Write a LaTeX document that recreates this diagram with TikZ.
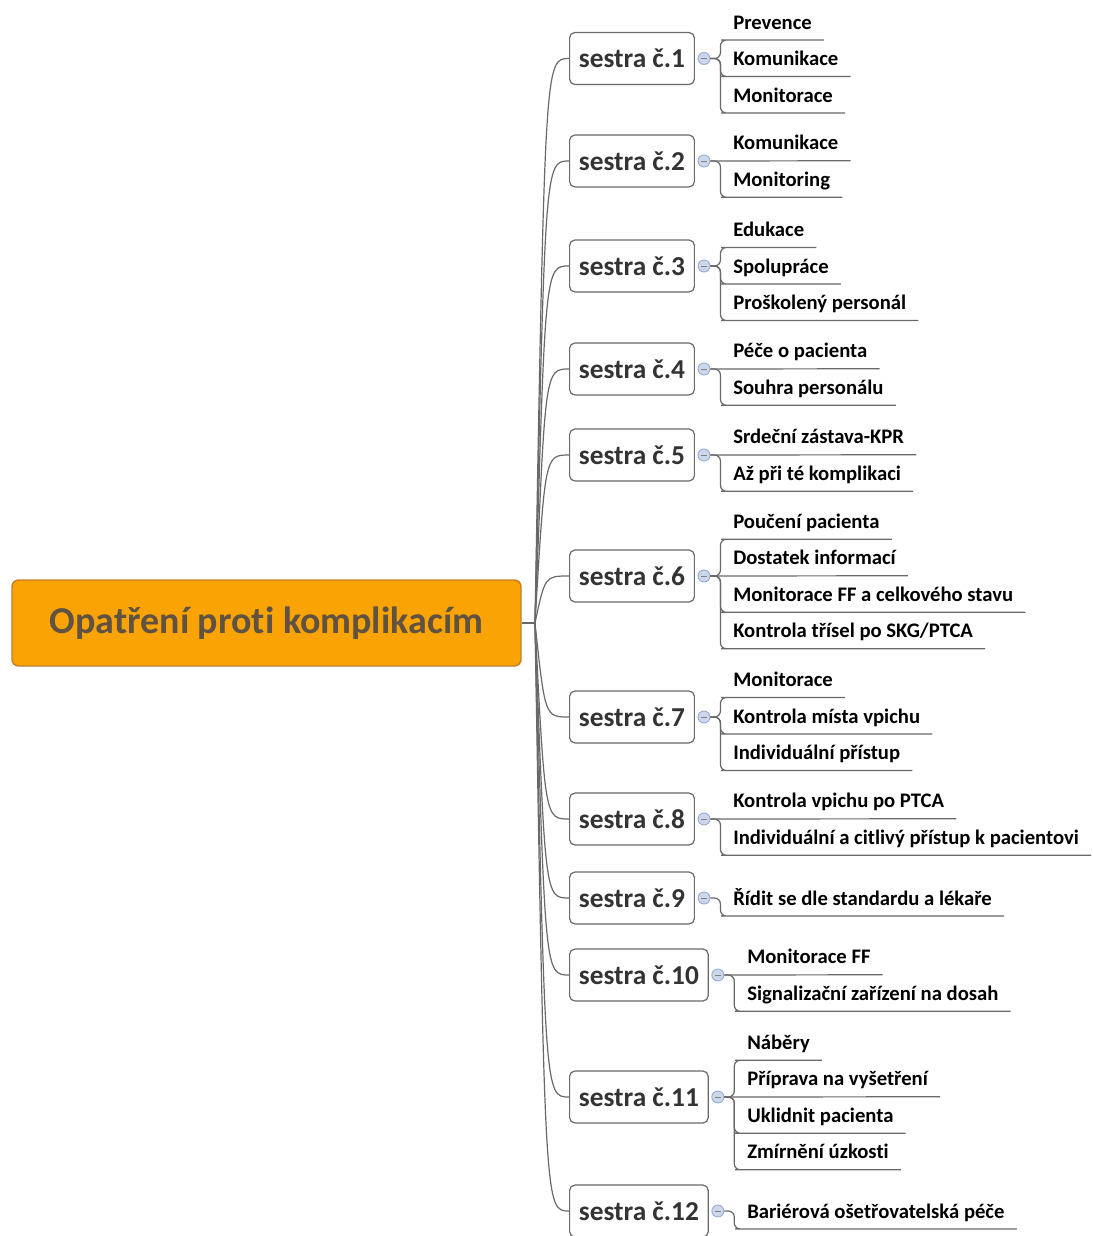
\documentclass[tikz,border=0pt]{standalone}
\usepackage{fontspec}
\setmainfont{Carlito}[Ligatures=NoCommon]
\usetikzlibrary{calc}
\definecolor{rootfill}{RGB}{249,164,4}
\definecolor{rootline}{RGB}{196,128,40}
\definecolor{roottext}{RGB}{96,82,66}
\definecolor{wire}{RGB}{105,105,105}
\definecolor{knobfill}{RGB}{205,215,235}
\definecolor{knobline}{RGB}{150,172,210}
\begin{document}
\begin{tikzpicture}[x=0.75pt,y=-0.75pt,
    root/.style={draw=rootline,fill=rootfill,line width=1.1pt,rounded corners=5pt,
      minimum width=381.75pt,minimum height=64.5pt,text=roottext,
      font=\fontsize{28.5}{34}\selectfont\bfseries},
    nurse/.style={draw=wire,fill=white,line width=0.9pt,rounded corners=4pt,anchor=west,
      minimum height=39pt,inner xsep=7pt,text=black!80,font=\fontsize{20.5}{24}\selectfont\bfseries},
    knob/.style={circle,draw=knobline,fill=knobfill,line width=0.7pt,minimum size=9pt,inner sep=0pt,
      path picture={\draw[gray,line width=0.6pt]
        ([xshift=-2.2pt]path picture bounding box.center) -- ([xshift=2.2pt]path picture bounding box.center);}},
    leaf/.style={anchor=base west,inner sep=0pt,font=\fontsize{15.5}{18}\selectfont\bfseries},
    trunk/.style={draw=wire,line width=0.9pt},
    twig/.style={draw=wire,line width=0.9pt,rounded corners=4.5pt}]
  \useasboundingbox (0,0) rectangle (1093,1236);

  % main topic
  \node[root] (root) at (266.5,623) {Opatření proti komplikacím};
  \coordinate (hub) at (535,623);
  \coordinate (bend) at (545,0);

  % nurses
  \node[nurse] (s1) at (569,58.5) {sestra č.1};
  \node[nurse] (s2) at (569,161) {sestra č.2};
  \node[nurse] (s3) at (569,266) {sestra č.3};
  \node[nurse] (s4) at (569,369) {sestra č.4};
  \node[nurse] (s5) at (569,455) {sestra č.5};
  \node[nurse] (s6) at (569,576) {sestra č.6};
  \node[nurse] (s7) at (569,717) {sestra č.7};
  \node[nurse] (s8) at (569,819) {sestra č.8};
  \node[nurse] (s9) at (569,898) {sestra č.9};
  \node[nurse] (s10) at (569,975) {sestra č.10};
  \node[nurse] (s11) at (569,1097) {sestra č.11};
  \node[nurse] (s12) at (569,1211) {sestra č.12};

  \node[knob] (k1) at ($(s1.east)+(9,0)$) {};
  \node[knob] (k2) at ($(s2.east)+(9,0)$) {};
  \node[knob] (k3) at ($(s3.east)+(9,0)$) {};
  \node[knob] (k4) at ($(s4.east)+(9,0)$) {};
  \node[knob] (k5) at ($(s5.east)+(9,0)$) {};
  \node[knob] (k6) at ($(s6.east)+(9,0)$) {};
  \node[knob] (k7) at ($(s7.east)+(9,0)$) {};
  \node[knob] (k8) at ($(s8.east)+(9,0)$) {};
  \node[knob] (k9) at ($(s9.east)+(9,0)$) {};
  \node[knob] (k10) at ($(s10.east)+(9,0)$) {};
  \node[knob] (k11) at ($(s11.east)+(9,0)$) {};
  \node[knob] (k12) at ($(s12.east)+(9,0)$) {};

  % subtopics
  \node[leaf] (l1a) at (733,29) {Prevence};
  \node[leaf] (l1b) at (733,65.5) {Komunikace};
  \node[leaf] (l1c) at (733,102) {Monitorace};
  \node[leaf] (l2a) at (733,149.75) {Komunikace};
  \node[leaf] (l2b) at (733,186.25) {Monitoring};
  \node[leaf] (l3a) at (733,236.5) {Edukace};
  \node[leaf] (l3b) at (733,273) {Spolupráce};
  \node[leaf] (l3c) at (733,309.5) {Proškolený personál};
  \node[leaf] (l4a) at (733,357.75) {Péče o pacienta};
  \node[leaf] (l4b) at (733,394.25) {Souhra personálu};
  \node[leaf] (l5a) at (733,443.75) {Srdeční zástava-KPR};
  \node[leaf] (l5b) at (733,480.25) {Až při té komplikaci};
  \node[leaf] (l6a) at (733,528.25) {Poučení pacienta};
  \node[leaf] (l6b) at (733,564.75) {Dostatek informací};
  \node[leaf] (l6c) at (733,601.25) {Monitorace FF a celkového stavu};
  \node[leaf] (l6d) at (733,637.75) {Kontrola třísel po SKG/PTCA};
  \node[leaf] (l7a) at (733,686.5) {Monitorace};
  \node[leaf] (l7b) at (733,723) {Kontrola místa vpichu};
  \node[leaf] (l7c) at (733,759.5) {Individuální přístup};
  \node[leaf] (l8a) at (733,807.75) {Kontrola vpichu po PTCA};
  \node[leaf] (l8b) at (733,844.25) {Individuální a citlivý přístup k pacientovi};
  \node[leaf] (l9a) at (733,905) {Řídit se dle standardu a lékaře};
  \node[leaf] (l10a) at (747,963.75) {Monitorace FF};
  \node[leaf] (l10b) at (747,1000.25) {Signalizační zařízení na dosah};
  \node[leaf] (l11a) at (747,1049.25) {Náběry};
  \node[leaf] (l11b) at (747,1085.75) {Příprava na vyšetření};
  \node[leaf] (l11c) at (747,1122.25) {Uklidnit pacienta};
  \node[leaf] (l11d) at (747,1158.75) {Zmírnění úzkosti};
  \node[leaf] (l12a) at (747,1218) {Bariérová ošetřovatelská péče};

  % root to nurses
  \begin{scope}[trunk]
    \draw (root.east) -- (hub);
    \draw (hub) .. controls (s1.west -| bend) .. (s1.west);
    \draw (hub) .. controls (s2.west -| bend) .. (s2.west);
    \draw (hub) .. controls (s3.west -| bend) .. (s3.west);
    \draw (hub) .. controls (s4.west -| bend) .. (s4.west);
    \draw (hub) .. controls (s5.west -| bend) .. (s5.west);
    \draw (hub) .. controls (s6.west -| bend) .. (s6.west);
    \draw (hub) .. controls (s7.west -| bend) .. (s7.west);
    \draw (hub) .. controls (s8.west -| bend) .. (s8.west);
    \draw (hub) .. controls (s9.west -| bend) .. (s9.west);
    \draw (hub) .. controls (s10.west -| bend) .. (s10.west);
    \draw (hub) .. controls (s11.west -| bend) .. (s11.west);
    \draw (hub) .. controls (s12.west -| bend) .. (s12.west);
  \end{scope}

  % nurses to subtopics
  \begin{scope}[twig]
    \draw (k1.east) -- ++(10,0) |- ($(l1a.base west)+(-6,11)$) -- ($(l1a.base east)+(12,11)$);
    \draw (k1.east) -- ++(10,0) |- ($(l1b.base west)+(-6,11)$) -- ($(l1b.base east)+(12,11)$);
    \draw (k1.east) -- ++(10,0) |- ($(l1c.base west)+(-6,11)$) -- ($(l1c.base east)+(12,11)$);
    \draw (k2.east) -- ($(l2a.base east)+(12,11)$);
    \draw (k2.east) -- ++(10,0) |- ($(l2b.base west)+(-6,11)$) -- ($(l2b.base east)+(12,11)$);
    \draw (k3.east) -- ++(10,0) |- ($(l3a.base west)+(-6,11)$) -- ($(l3a.base east)+(12,11)$);
    \draw (k3.east) -- ++(10,0) |- ($(l3b.base west)+(-6,11)$) -- ($(l3b.base east)+(12,11)$);
    \draw (k3.east) -- ++(10,0) |- ($(l3c.base west)+(-6,11)$) -- ($(l3c.base east)+(12,11)$);
    \draw (k4.east) -- ($(l4a.base east)+(12,11)$);
    \draw (k4.east) -- ++(10,0) |- ($(l4b.base west)+(-6,11)$) -- ($(l4b.base east)+(12,11)$);
    \draw (k5.east) -- ($(l5a.base east)+(12,11)$);
    \draw (k5.east) -- ++(10,0) |- ($(l5b.base west)+(-6,11)$) -- ($(l5b.base east)+(12,11)$);
    \draw (k6.east) -- ++(10,0) |- ($(l6a.base west)+(-6,11)$) -- ($(l6a.base east)+(12,11)$);
    \draw (k6.east) -- ($(l6b.base east)+(12,11)$);
    \draw (k6.east) -- ++(10,0) |- ($(l6c.base west)+(-6,11)$) -- ($(l6c.base east)+(12,11)$);
    \draw (k6.east) -- ++(10,0) |- ($(l6d.base west)+(-6,11)$) -- ($(l6d.base east)+(12,11)$);
    \draw (k7.east) -- ++(10,0) |- ($(l7a.base west)+(-6,11)$) -- ($(l7a.base east)+(12,11)$);
    \draw (k7.east) -- ++(10,0) |- ($(l7b.base west)+(-6,11)$) -- ($(l7b.base east)+(12,11)$);
    \draw (k7.east) -- ++(10,0) |- ($(l7c.base west)+(-6,11)$) -- ($(l7c.base east)+(12,11)$);
    \draw (k8.east) -- ($(l8a.base east)+(12,11)$);
    \draw (k8.east) -- ++(10,0) |- ($(l8b.base west)+(-6,11)$) -- ($(l8b.base east)+(12,11)$);
    \draw (k9.east) -- ++(10,0) |- ($(l9a.base west)+(-6,11)$) -- ($(l9a.base east)+(12,11)$);
    \draw (k10.east) -- ($(l10a.base east)+(12,11)$);
    \draw (k10.east) -- ++(10,0) |- ($(l10b.base west)+(-6,11)$) -- ($(l10b.base east)+(12,11)$);
    \draw (k11.east) -- ++(10,0) |- ($(l11a.base west)+(-6,11)$) -- ($(l11a.base east)+(12,11)$);
    \draw (k11.east) -- ($(l11b.base east)+(12,11)$);
    \draw (k11.east) -- ++(10,0) |- ($(l11c.base west)+(-6,11)$) -- ($(l11c.base east)+(12,11)$);
    \draw (k11.east) -- ++(10,0) |- ($(l11d.base west)+(-6,11)$) -- ($(l11d.base east)+(12,11)$);
    \draw (k12.east) -- ++(10,0) |- ($(l12a.base west)+(-6,11)$) -- ($(l12a.base east)+(12,11)$);
  \end{scope}
\end{tikzpicture}
\end{document}
